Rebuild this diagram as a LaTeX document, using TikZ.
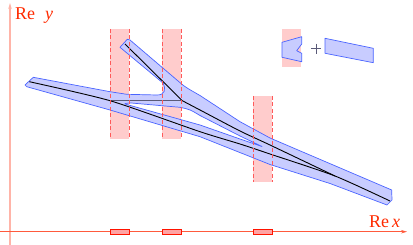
\documentclass[tikz,border=0pt]{standalone}
\usepackage{fontspec}
\setmainfont{Liberation Serif}
\usetikzlibrary{arrows.meta}
\definecolor{bandfill}{HTML}{FFCCCC}
\definecolor{dashred}{HTML}{FF5A5A}
\definecolor{regfill}{HTML}{C8CCFF}
\definecolor{regline}{HTML}{4A64FF}
\definecolor{axred}{HTML}{FF5A3C}
\definecolor{axpink}{HTML}{FFB4A8}
\definecolor{labred}{HTML}{FF2A00}
\definecolor{cutgray}{HTML}{5A5A78}
\tikzset{
  band/.style={fill=bandfill, draw=none},
  bandedge/.style={draw=dashred, line width=0.7pt, dash pattern=on 4pt off 2.5pt},
  region/.style={fill=regfill, draw=regline, line width=0.7pt, line join=round},
  curve/.style={draw=black, line width=0.9pt},
  cut/.style={draw=cutgray, line width=1.2pt},
  axmark/.style={fill=bandfill!80!red, draw=red!85!orange, line width=0.8pt},
  axlabel/.style={text=labred, font=\fontsize{18}{18}\selectfont, inner sep=0pt, anchor=base west}
}
\begin{document}
\begin{tikzpicture}[x=1pt,y=-1pt]
\useasboundingbox (0,0) rectangle (413,245);
% axes
\draw[axpink, line width=1.4pt, -{Stealth[length=6pt,width=3.5pt]}] (10,245) -- (10,3);
\draw[axred, line width=0.8pt, -{Stealth[length=6pt,width=3.5pt]}] (0,231.7) -- (407,231.7);
\node[axlabel] (ly) at (15,20) {Re\hspace{0.55em}\textit{y}};
\node[axlabel] (lx) at (369,228) {Re\,\textit{x}};
% pink bands
\fill[band] (110,29) rectangle (129,139);
\fill[band] (162,29) rectangle (181,139);
\fill[band] (253,96) rectangle (272,182);
\fill[band] (282,29) rectangle (301,67);
% main region with hole
\path[region, even odd rule]
  (25,85) -- (33.3,77.3) -- (110,91.7) .. controls (118,93.5) .. (126.7,94.3) -- (157,95)
  .. controls (165,95.2) and (166,89) .. (163.3,83.3) -- (120,47.3) -- (127.3,39.3) -- (130,40)
  -- (181,83.5) .. controls (186,87.5) .. (200,95.5) -- (240,121.7) -- (270,138)
  -- (391.7,190) -- (392,200) -- (387,205) -- (330,183.5) -- (270,164.5) -- (200,136.7) -- (110,110) -- (26.7,86.7) -- cycle
  (125,103.6) -- (130,102.9) -- (180,107.3) .. controls (190,109.5) .. (200,115.5) -- (240,136) -- (262,146.5)
  -- (240,139) -- (200,125) -- (125,104) -- cycle;
% small upper right pieces
\path[region] (282,42.3) -- (301.7,36.7) -- (301.7,44) -- (296.7,50.7) -- (301.7,53.3) -- (301.7,61.7) -- (282,57.3) -- cycle;
\path[region] (325,38.3) -- (373.3,48.3) -- (373.3,62.7) -- (325,53.3) -- cycle;
\draw[cutgray, line width=0.8pt] (311,48.7) -- (321,48.7) (316,43.7) -- (316,53.7);
% curves
\coordinate (a0) at (29.3,81.7);
\coordinate (j1) at (110,100.7);
\coordinate (b0) at (125,44);
\coordinate (j2) at (182.3,100.7);
\coordinate (m) at (335,176);
\coordinate (e) at (390,201);
\draw[cut] (j1) -- (j2);
\draw[curve] plot[smooth, tension=0.4] coordinates {(a0) (j1) (200,131.7) (240,144) (270,154) (m) (e)};
\draw[curve] (b0) -- (j2) plot[smooth, tension=0.4] coordinates {(j2) (200,110) (240,131) (270,145) (m)};
% dashed band edges
\foreach \x/\a/\b in {110/29/139, 129/29/139, 162/29/139, 181/29/139, 253/96/182, 272/96/182}
  \draw[bandedge] (\x,\a) -- (\x,\b);
% axis marks
\foreach \x in {110,162,253}
  \draw[axmark] (\x,229.3) rectangle (\x+19,234.7);
\end{tikzpicture}
\end{document}
